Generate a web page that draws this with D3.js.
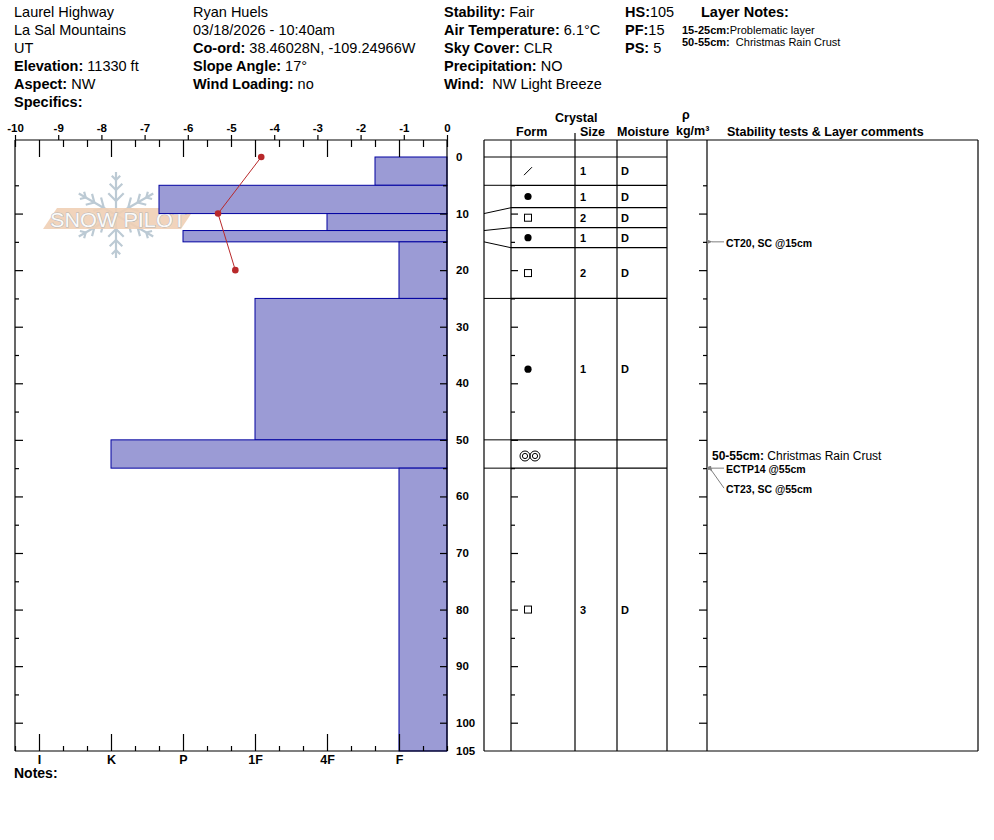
<!DOCTYPE html>
<html>
<head>
<meta charset="utf-8">
<script src="https://cdn.jsdelivr.net/npm/d3@7"></script>
<style>
  body { margin: 0; background: #fff; }
  svg { font-family: "Liberation Sans", Arial, sans-serif; }
  text { white-space: pre; }
</style>
</head>
<body>
<div id="chart"></div>
<script>
// ---- header text (label, value) ----
var headCol1 = [["", "Laurel Highway"], ["", "La Sal Mountains"], ["", "UT"],
                ["Elevation:", " 11330 ft"], ["Aspect:", " NW"], ["Specifics:", ""]];
var headCol2 = [["", "Ryan Huels"], ["", "03/18/2026 - 10:40am"], ["Co-ord:", " 38.46028N, -109.24966W"],
                ["Slope Angle:", " 17°"], ["Wind Loading:", " no"]];
var headCol3 = [["Stability:", " Fair"], ["Air Temperature:", " 6.1°C"], ["Sky Cover:", " CLR"],
                ["Precipitation:", " NO"], ["Wind:", "  NW Light Breeze"]];
var headCol4 = [["HS:", "105"], ["PF:", "15"], ["PS:", " 5"]];
var layerNotes = [["15-25cm:", "Problematic layer"], ["50-55cm:", "  Christmas Rain Crust"]];

// ---- snow layers ----
var layerTop      = [0, 5, 10, 13, 15, 25, 50, 55];
var layerBottom   = [5, 10, 13, 15, 25, 50, 55, 105];
var layerHardness = ["F+", "P+", "4F", "P", "F", "1F", "K", "F"];
var layerForm     = ["DF", "RG", "FC", "RG", "FC", "RG", "MFcr", "FC"];
var layerSize     = ["1", "1", "2", "1", "2", "1", "", "3"];
var layerMoisture = ["D", "D", "D", "D", "D", "D", "", "D"];

// ---- temperature profile ----
var tempDepth = [0, 10, 20];
var tempValue = [-4.3, -5.3, -4.9];

// ---- stability tests / comments ----
var testDepth = [15, 55, 55];
var testText  = ["CT20, SC @15cm", "ECTP14 @55cm", "CT23, SC @55cm"];
var commentRange = [50, 55];
var commentLabel = "50-55cm:";
var commentText  = " Christmas Rain Crust";

// ---- scales' vocab ----
var tempTicks      = [-10, -9, -8, -7, -6, -5, -4, -3, -2, -1, 0];
var hardnessSteps  = ["I+", "I", "I-", "K+", "K", "K-", "P+", "P", "P-", "1F+", "1F", "1F-",
                      "4F+", "4F", "4F-", "F+", "F", "F-"];
var hardnessLabels = ["I", "K", "P", "1F", "4F", "F"];
var depthLabels    = [0, 10, 20, 30, 40, 50, 60, 70, 80, 90, 100, 105];

var W = 994, H = 840;
var svg = d3.select("#chart").append("svg").attr("width", W).attr("height", H);

svg.append("defs").append("marker")
   .attr("id", "arr").attr("viewBox", "0 0 10 10").attr("refX", 1).attr("refY", 5)
   .attr("markerWidth", 6).attr("markerHeight", 6).attr("orient", "auto-start-reverse")
   .append("path").attr("d", "M0,5 L10,1 L10,9 Z").attr("fill", "#7f7f7f");

// header
function headerCol(rows, x) {
  rows.forEach(function(r, i) {
    var t = svg.append("text").attr("x", x).attr("y", 17 + 18 * i).attr("font-size", 14.5);
    if (r[0]) t.append("tspan").attr("font-weight", "bold").text(r[0]);
    t.append("tspan").text(r[1]);
  });
}
headerCol(headCol1, 14);
headerCol(headCol2, 193);
headerCol(headCol3, 444);
headerCol(headCol4, 625);
svg.append("text").attr("x", 701).attr("y", 17).attr("font-size", 14.5)
   .attr("font-weight", "bold").text("Layer Notes:");
layerNotes.forEach(function(r, i) {
  var t = svg.append("text").attr("x", 682).attr("y", 34 + 12 * i).attr("font-size", 11);
  t.append("tspan").attr("font-weight", "bold").text(r[0]);
  t.append("tspan").text(r[1]);
});

// ---- left chart scales ----
var tempX = d3.scaleLinear().domain([-10, 0]).range([15, 447]);
var hardX = d3.scaleLinear().domain([0, 18]).range([15, 447]);
var depthY = d3.scaleLinear().domain([0, 105]).range([157, 751]);

// watermark logo
var logo = svg.append("g");
var flake = logo.append("g").attr("transform", "translate(116,215)")
   .attr("stroke", "#bccad4").attr("stroke-width", 2.2).attr("fill", "none");
d3.range(6).forEach(function(k) {
  var arm = flake.append("g").attr("transform", "rotate(" + (k * 60) + ")");
  arm.append("line").attr("x1", 0).attr("y1", 0).attr("x2", 0).attr("y2", -43);
  [[14, 11], [25, 9], [35, 6]].forEach(function(b) {
    arm.append("path").attr("d", "M" + (-b[1] * 0.7) + "," + (-b[0] - b[1] * 0.7) +
      " L0," + (-b[0]) + " L" + (b[1] * 0.7) + "," + (-b[0] - b[1] * 0.7));
  });
});
logo.append("path").attr("d", "M43,229 L57,208 L195,208 L181,229 Z")
    .attr("fill", "#efcfb5").attr("opacity", 0.9);
logo.append("text").attr("x", 50).attr("y", 226.5).attr("font-size", 20)
    .attr("textLength", 136).attr("lengthAdjust", "spacingAndGlyphs")
    .attr("fill", "#fafafa").attr("stroke", "#b5b5b5").attr("stroke-width", 1)
    .attr("paint-order", "stroke")
    .text("SNOW PILOT");

// hardness bars
var bars = d3.range(layerTop.length);
svg.selectAll("rect.layer").data(bars).enter().append("rect")
   .attr("class", "layer")
   .attr("x", function(i) { return hardX(hardnessSteps.indexOf(layerHardness[i])); })
   .attr("y", function(i) { return depthY(layerTop[i]); })
   .attr("width", function(i) { return 447 - hardX(hardnessSteps.indexOf(layerHardness[i])); })
   .attr("height", function(i) { return depthY(layerBottom[i]) - depthY(layerTop[i]); })
   .attr("fill", "#9b9bd5").attr("stroke", "#0000a0").attr("stroke-width", 1);

// frame
var frame = svg.append("g").attr("stroke", "#000").attr("stroke-width", 1.2);
frame.append("line").attr("x1", 15).attr("x2", 447).attr("y1", 140).attr("y2", 140);
frame.append("line").attr("x1", 15).attr("x2", 447).attr("y1", 751).attr("y2", 751);
frame.append("line").attr("x1", 15).attr("x2", 15).attr("y1", 140).attr("y2", 751);
frame.append("line").attr("x1", 447).attr("x2", 447).attr("y1", 140).attr("y2", 751);

function clean(g) { g.select(".domain").remove(); g.selectAll("line").attr("stroke-width", 1.2); }

// top temperature axis
svg.append("g").attr("transform", "translate(0,140)")
   .call(d3.axisTop(tempX).tickValues(tempTicks).tickSize(5).tickSizeOuter(0)
          .tickFormat(function(d) { return String(d); }))
   .call(clean)
   .selectAll("text").attr("font-size", 11.5).attr("font-weight", "bold").attr("fill", "#000")
   .attr("font-family", "Liberation Sans, Arial, sans-serif");

var allSteps = d3.range(19);
var majorSteps = allSteps.filter(function(i) { return i % 3 === 1; });
var minorSteps = allSteps.filter(function(i) { return i % 3 !== 1; });
// hardness ticks hanging from the top
svg.append("g").attr("transform", "translate(0,140)")
   .call(d3.axisBottom(hardX).tickValues(minorSteps).tickSize(7).tickFormat("")).call(clean);
svg.append("g").attr("transform", "translate(0,140)")
   .call(d3.axisBottom(hardX).tickValues(majorSteps).tickSize(17).tickFormat("")).call(clean);
// bottom hardness axis
svg.append("g").attr("transform", "translate(0,751)")
   .call(d3.axisTop(hardX).tickValues(minorSteps).tickSize(5).tickFormat("")).call(clean);
svg.append("g").attr("transform", "translate(0,751)")
   .call(d3.axisTop(hardX).tickValues(majorSteps).tickSize(17).tickFormat("")).call(clean);
svg.append("g").attr("transform", "translate(0,751)")
   .call(d3.axisBottom(hardX).tickValues(majorSteps).tickSize(0).tickPadding(4)
          .tickFormat(function(d, i) { return hardnessLabels[i]; }))
   .call(clean)
   .selectAll("text").attr("font-size", 12.5).attr("font-weight", "bold").attr("fill", "#000")
   .attr("font-family", "Liberation Sans, Arial, sans-serif");

svg.append("text").attr("x", 14).attr("y", 778).attr("font-size", 14)
   .attr("font-weight", "bold").text("Notes:");

// depth ticks
var d5 = d3.range(5, 105, 5);
var d10 = d5.filter(function(d) { return d % 10 === 0; });
var d5only = d5.filter(function(d) { return d % 10 !== 0; });
function depthTicks(x, axisFn, big, small) {
  svg.append("g").attr("transform", "translate(" + x + ",0)")
     .call(axisFn(depthY).tickValues(d10).tickSize(big).tickFormat("")).call(clean);
  svg.append("g").attr("transform", "translate(" + x + ",0)")
     .call(axisFn(depthY).tickValues(d5only).tickSize(small).tickFormat("")).call(clean);
}
depthTicks(15, d3.axisRight, 8, 4);
depthTicks(447, d3.axisLeft, 7, 4);
depthTicks(511, d3.axisRight, 7, 4);
depthTicks(707, d3.axisLeft, 8, 4);

svg.selectAll("text.dl").data(depthLabels).enter().append("text")
   .attr("class", "dl").attr("x", 456).attr("y", function(d) { return depthY(d) + 4; })
   .attr("font-size", 11.5).attr("font-weight", "bold").text(function(d) { return d; });

// temperature profile
var line = d3.line().x(function(i) { return tempX(tempValue[i]); })
                    .y(function(i) { return depthY(tempDepth[i]); });
var tIdx = d3.range(tempDepth.length);
svg.append("path").attr("d", line(tIdx)).attr("fill", "none")
   .attr("stroke", "#b8282a").attr("stroke-width", 1);
svg.selectAll("circle.t").data(tIdx).enter().append("circle").attr("class", "t")
   .attr("cx", function(i) { return tempX(tempValue[i]); })
   .attr("cy", function(i) { return depthY(tempDepth[i]); })
   .attr("r", 3.3).attr("fill", "#b8282a");

// ---- table ----
var colX = [484, 511, 575, 617, 667, 707, 978];
var tbl = svg.append("g").attr("stroke", "#000").attr("stroke-width", 1.2);
tbl.append("line").attr("x1", colX[0]).attr("x2", colX[6]).attr("y1", 140).attr("y2", 140);
tbl.append("line").attr("x1", colX[0]).attr("x2", colX[6]).attr("y1", 751).attr("y2", 751);
colX.forEach(function(x, i) {
  tbl.append("line").attr("x1", x).attr("x2", x).attr("y1", i === 2 ? 133 : 140).attr("y2", 751);
});

// spread rows that are too thin to read
var minH = 20;
var bounds = layerTop.map(function(d) { return depthY(d); });
var rowY = bounds.slice();
var heights = layerTop.map(function(d, i) { return depthY(layerBottom[i]) - depthY(d); });
var i = 0;
while (i < heights.length) {
  if (heights[i] < minH) {
    var j = i;
    while (j + 1 < heights.length && heights[j + 1] < minH) j++;
    var y0 = bounds[i], y1 = bounds[j] + heights[j];
    var n = j - i + 1, c = (y0 + y1) / 2, start = c - n * minH / 2;
    for (var k = i; k <= j; k++) rowY[k] = start + (k - i) * minH;
    if (j + 1 < rowY.length) rowY[j + 1] = start + n * minH;
    i = j + 2;
  } else i++;
}
var rowBottom = rowY.slice(1).concat([751]);

layerTop.forEach(function(d, i) {
  tbl.append("line").attr("x1", colX[0]).attr("y1", bounds[i])
     .attr("x2", colX[1]).attr("y2", rowY[i]).attr("stroke-width", 1);
  tbl.append("line").attr("x1", colX[1]).attr("y1", rowY[i])
     .attr("x2", colX[4]).attr("y2", rowY[i]);
});

function drawForm(code, cx, cy) {
  var g = svg.append("g");
  if (code === "DF") {
    g.append("line").attr("x1", cx - 4).attr("y1", cy + 4).attr("x2", cx + 4).attr("y2", cy - 4)
     .attr("stroke", "#000").attr("stroke-width", 1);
  } else if (code === "RG") {
    g.append("circle").attr("cx", cx).attr("cy", cy).attr("r", 3.6).attr("fill", "#000");
  } else if (code === "FC") {
    g.append("rect").attr("x", cx - 3.5).attr("y", cy - 3.5).attr("width", 7).attr("height", 7)
     .attr("fill", "none").attr("stroke", "#000").attr("stroke-width", 1);
  } else if (code === "MFcr") {
    [cx - 3, cx + 7].forEach(function(x) {
      g.append("circle").attr("cx", x).attr("cy", cy).attr("r", 5).attr("fill", "none")
       .attr("stroke", "#000").attr("stroke-width", 1);
      g.append("circle").attr("cx", x).attr("cy", cy).attr("r", 2.6).attr("fill", "none")
       .attr("stroke", "#000").attr("stroke-width", 1);
    });
  }
}
layerTop.forEach(function(d, i) {
  var cy = (rowY[i] + rowBottom[i]) / 2;
  if (layerForm[i] === "MFcr") cy += 2;
  drawForm(layerForm[i], 528, cy);
  svg.append("text").attr("x", 580).attr("y", cy + 4).attr("font-size", 11)
     .attr("font-weight", "bold").text(layerSize[i]);
  svg.append("text").attr("x", 621).attr("y", cy + 4).attr("font-size", 11)
     .attr("font-weight", "bold").text(layerMoisture[i]);
});

// table headers
var hdr = [["Crystal", 555, 122], ["Form", 516, 136], ["Size", 580, 136], ["Moisture", 617, 136],
           ["ρ", 682, 119], ["kg/m³", 676, 135], ["Stability tests & Layer comments", 727, 136]];
hdr.forEach(function(h) {
  svg.append("text").attr("x", h[1]).attr("y", h[2]).attr("font-size", 12.5)
     .attr("font-weight", "bold").text(h[0]);
});

// stability tests with arrows
testDepth.forEach(function(d, i) {
  var ty = depthY(d);
  var dup = testDepth.slice(0, i).filter(function(x) { return x === d; }).length;
  var ly = ty + dup * 20;
  svg.append("line").attr("x1", 724).attr("y1", ly).attr("x2", 712)
     .attr("y2", ty + (ly - ty) * 0.15).attr("stroke", "#7f7f7f").attr("stroke-width", 1)
     .attr("marker-end", "url(#arr)");
  svg.append("text").attr("x", 726).attr("y", ly + 5).attr("font-size", 10.5)
     .attr("font-weight", "bold").text(testText[i]);
});
var ct = svg.append("text").attr("x", 712).attr("y", depthY(commentRange[1]) - 8.5).attr("font-size", 12);
ct.append("tspan").attr("font-weight", "bold").text(commentLabel);
ct.append("tspan").text(commentText);
</script>
</body>
</html>
